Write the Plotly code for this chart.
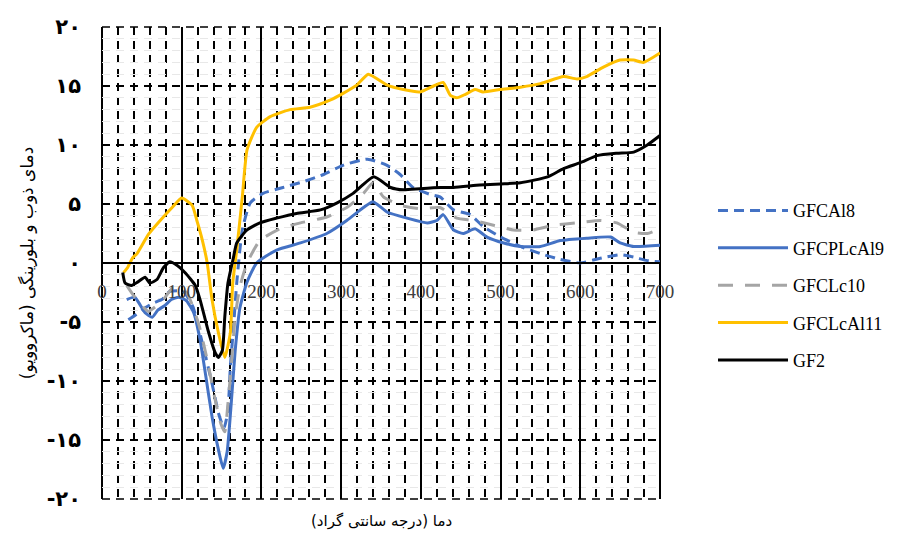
import plotly.graph_objects as go

# GFCAl8 (blue dashed)
x_al8 = [33, 42, 54, 64, 75, 85, 102, 114, 127, 138, 146, 153, 158, 161, 165, 169, 176, 186, 202, 227, 253, 278, 303, 333, 357, 374, 390, 412, 424, 441, 462, 478, 500, 525, 550, 575, 600, 625, 650, 667, 684, 700]
y_al8 = [-4.8, -4.4, -3.8, -3.4, -3.1, -2.4, -2.4, -3.7, -7.1, -10.2, -12.7, -14.0, -12.5, -8.8, -5.4, -1.7, 2.8, 5.1, 5.9, 6.4, 6.9, 7.5, 8.3, 8.8, 8.3, 7.5, 6.4, 5.8, 5.6, 4.5, 4.1, 3.1, 2.2, 1.4, 0.8, 0.3, 0.0, 0.4, 0.7, 0.5, 0.2, 0.1]

# GFCPLcAl9 (blue solid)
x_al9 = [31, 41, 54, 63, 70, 79, 87, 96, 106, 115, 123, 130, 138, 146, 152, 157, 162, 167, 173, 182, 194, 219, 249, 282, 307, 328, 340, 358, 383, 408, 420, 428, 441, 453, 468, 483, 504, 525, 550, 575, 608, 638, 650, 667, 700]
y_al9 = [-3.1, -2.9, -4.2, -4.6, -4.0, -3.6, -3.1, -2.9, -3.2, -4.2, -6.5, -9.5, -13.0, -15.8, -17.4, -16.0, -12.0, -7.5, -3.8, -1.6, 0.0, 1.1, 1.7, 2.5, 3.6, 4.7, 5.2, 4.3, 3.8, 3.4, 3.6, 4.1, 2.8, 2.5, 2.9, 2.2, 1.7, 1.4, 1.4, 1.9, 2.1, 2.2, 1.7, 1.4, 1.5]

# GFCLc10 (gray dashed)
x_lc10 = [31, 39, 50, 58, 69, 77, 89, 106, 121, 132, 142, 149, 154, 158, 163, 167, 173, 182, 198, 223, 249, 282, 307, 328, 340, 353, 374, 399, 424, 445, 466, 491, 516, 541, 567, 596, 625, 646, 667, 684, 700]
y_lc10 = [-1.9, -2.7, -3.6, -4.1, -3.6, -3.1, -2.1, -2.5, -5.1, -8.2, -11.6, -13.6, -14.3, -11.9, -8.0, -4.6, -2.0, 0.0, 1.9, 2.9, 3.4, 3.9, 4.7, 5.9, 6.8, 5.6, 4.9, 4.6, 4.7, 3.8, 3.6, 3.2, 2.8, 2.8, 3.2, 3.4, 3.6, 3.4, 2.6, 2.5, 2.9]

# GFCLcAl11 (yellow)
x_al11 = [27, 32, 38, 44, 58, 73, 88, 100, 113, 119, 126, 132, 138, 146, 154, 161, 164, 169, 176, 182, 194, 211, 236, 261, 286, 303, 320, 334, 357, 378, 399, 416, 428, 437, 445, 456, 468, 478, 499, 525, 550, 579, 596, 608, 629, 650, 667, 679, 700]
y_al11 = [-0.8, -0.4, 0.4, 0.8, 2.4, 3.6, 4.7, 5.5, 4.9, 3.6, 1.9, 0.0, -3.1, -5.9, -8.0, -5.9, -1.7, 1.1, 5.6, 9.6, 11.5, 12.4, 13.0, 13.2, 13.8, 14.4, 15.1, 16.0, 15.1, 14.7, 14.5, 15.0, 15.3, 14.2, 14.0, 14.3, 14.7, 14.5, 14.7, 14.9, 15.2, 15.8, 15.6, 15.8, 16.6, 17.2, 17.2, 17.0, 17.8]

# GF2 (black)
x_gf2 = [26, 29, 37, 45, 54, 60, 69, 77, 85, 94, 104, 117, 123, 133, 142, 146, 151, 154, 158, 165, 169, 182, 198, 219, 244, 274, 295, 315, 341, 362, 378, 399, 425, 441, 474, 500, 525, 559, 579, 600, 621, 646, 667, 684, 700]
y_gf2 = [-0.8, -1.7, -1.9, -1.6, -1.2, -1.7, -1.4, -0.4, 0.1, -0.2, -0.8, -1.9, -3.1, -5.7, -7.6, -8.0, -7.4, -4.6, -1.7, 0.5, 1.7, 2.8, 3.4, 3.8, 4.2, 4.5, 5.1, 5.9, 7.3, 6.4, 6.2, 6.3, 6.4, 6.4, 6.6, 6.7, 6.8, 7.3, 8.0, 8.5, 9.1, 9.3, 9.4, 10.0, 10.8]

series_names = ["GFCAl8", "GFCPLcAl9", "GFCLc10", "GFCLcAl11", "GF2"]
y_tick_vals = [20, 15, 10, 5, 0, -5, -10, -15, -20]
y_tick_text = ["۲۰", "۱۵", "۱۰", "۵", "۰", "-۵", "-۱۰", "-۱۵", "-۲۰"]
x_tick_vals = [0, 100, 200, 300, 400, 500, 600, 700]
x_title = "دما (درجه سانتی گراد)"
y_title = "دمای ذوب و بلورینگی (ماکروویو)"

styles = [
    dict(color="#4472C4", width=3, dash="10px,6px"),
    dict(color="#4472C4", width=3, dash="solid"),
    dict(color="#A5A5A5", width=3, dash="15px,12px"),
    dict(color="#FFC000", width=3, dash="solid"),
    dict(color="#000000", width=3, dash="solid"),
]
data = [(x_al8, y_al8), (x_al9, y_al9), (x_lc10, y_lc10), (x_al11, y_al11), (x_gf2, y_gf2)]

fig = go.Figure()
for name, (xs, ys), st in zip(series_names, data, styles):
    fig.add_trace(go.Scatter(x=xs, y=ys, name=name, mode="lines",
                             line=dict(shape="spline", smoothing=0.5, **st),
                             legendgroup=name))

grid_dash = "8px,6px"
# plot frame (edge grid lines)
frame = [
    dict(x0=0, x1=1, y0=1, y1=1, line=dict(color="black", width=1.5, dash=grid_dash)),
    dict(x0=0, x1=1, y0=0, y1=0, line=dict(color="black", width=1.5, dash=grid_dash)),
    dict(x0=0, x1=0, y0=0, y1=1, line=dict(color="black", width=2)),
    dict(x0=1, x1=1, y0=0, y1=1, line=dict(color="black", width=2)),
]
for s in frame:
    fig.add_shape(type="line", xref="paper", yref="paper", layer="below", **s)

fig.add_annotation(text=x_title, xref="paper", yref="paper", x=0.5, y=0,
                   yshift=-22, xanchor="center", yanchor="middle", showarrow=False,
                   font=dict(family="DejaVu Sans", size=15, color="black"))

fig.update_layout(
    width=903, height=534,
    margin=dict(l=102, r=243, t=27, b=35),
    paper_bgcolor="white", plot_bgcolor="white",
    showlegend=True,
    legend=dict(x=1.095, xanchor="left", y=0.453, yanchor="middle",
                xref="paper", yref="paper",
                font=dict(family="Liberation Serif", size=18, color="#000000"),
                itemwidth=70, tracegroupgap=11, bgcolor="rgba(0,0,0,0)"),
    xaxis=dict(range=[0, 700], tickvals=x_tick_vals, ticks="",
               anchor="free", position=0.5,
               showline=True, linecolor="black", linewidth=1.5,
               showgrid=True, gridcolor="black", gridwidth=2,
               minor=dict(dtick=20, tick0=0, showgrid=True, gridcolor="black",
                          gridwidth=1.5, griddash=grid_dash),
               ticklabelstandoff=11,
               tickfont=dict(family="Liberation Serif", size=19, color="#404040"),
               zeroline=False),
    yaxis=dict(range=[-20, 20], tickvals=y_tick_vals, ticktext=y_tick_text,
               ticks="", showline=False, zeroline=False,
               showgrid=True, gridcolor="black", gridwidth=1.5, griddash=grid_dash,
               minor=dict(dtick=1, tick0=0, showgrid=True, gridcolor="#e8e8e8",
                          gridwidth=1),
               ticklabelstandoff=20,
               tickfont=dict(family="DejaVu Sans", size=21, color="black", weight="bold"),
               title=dict(text=y_title, standoff=8,
                          font=dict(family="DejaVu Sans", size=17, color="black"))),
)

fig.write_html("out.html")
